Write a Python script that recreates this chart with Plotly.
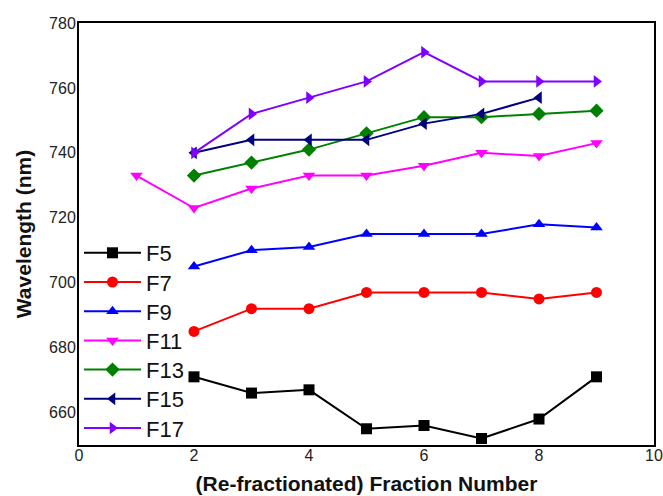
import plotly.graph_objects as go

x_2_9 = [2, 3, 4, 5, 6, 7, 8, 9]
x_1_9 = [1, 2, 3, 4, 5, 6, 7, 8, 9]
x_2_8 = [2, 3, 4, 5, 6, 7, 8]

f5 = [671, 666, 667, 655, 656, 652, 658, 671]
f7 = [685, 692, 692, 697, 697, 697, 695, 697]
f9 = [705, 710, 711, 715, 715, 715, 718, 717]
f11 = [733, 723, 729, 733, 733, 736, 740, 739, 743]
f13 = [733, 737, 741, 746, 751, 751, 752, 753]
f15 = [740, 744, 744, 744, 749, 752, 757]
f17 = [740, 752, 757, 762, 771, 762, 762, 762]

series = [
    ("F5", x_2_9, f5, "#000000", "square"),
    ("F7", x_2_9, f7, "#FF0000", "circle"),
    ("F9", x_2_9, f9, "#0000FF", "triangle-up"),
    ("F11", x_1_9, f11, "#FF00FF", "triangle-down"),
    ("F13", x_2_9, f13, "#008000", "diamond"),
    ("F15", x_2_8, f15, "#000080", "triangle-left"),
    ("F17", x_2_9, f17, "#8000FF", "triangle-right"),
]

W, H = 663, 496
ML, MR, MT, MB = 79, 9, 23, 51
plot_h = H - MT - MB

fig = go.Figure()
legend_layout = {}
for i, (name, xs, ys, color, sym) in enumerate(series):
    lname = "legend" if i == 0 else f"legend{i + 1}"
    fig.add_trace(go.Scatter(
        x=xs, y=ys, name=name, mode="lines+markers",
        line=dict(color=color, width=2),
        marker=dict(symbol=sym, size=11, color=color),
        legend=lname,
    ))
    center_px = 253 + 29.2 * i
    legend_layout[lname] = dict(
        x=0.0, y=(H - MB - center_px) / plot_h, xanchor="left", yanchor="middle",
        font=dict(size=22, color="#111"), bgcolor="rgba(0,0,0,0)",
        itemwidth=57,
    )

fig.update_layout(
    width=W, height=H,
    margin=dict(l=ML, r=MR, t=MT, b=MB),
    plot_bgcolor="white", paper_bgcolor="white",
    font=dict(family="Arial, Liberation Sans, sans-serif", color="#222"),
    showlegend=True,
    **legend_layout,
)
fig.update_xaxes(range=[0, 10], dtick=2, showgrid=False, zeroline=False,
                 showline=True, linecolor="black", linewidth=2, mirror=True,
                 ticks="", tickfont=dict(size=16), automargin=False,
                 ticklabelstandoff=-5,
                 title=dict(text="<b>(Re-fractionated) Fraction Number</b>",
                            font=dict(size=21, color="#111"), standoff=13))
fig.update_yaxes(range=[650, 780], tickvals=[660, 680, 700, 720, 740, 760, 780],
                 showgrid=False, zeroline=False, automargin=False,
                 showline=True, linecolor="black", linewidth=2, mirror=True,
                 ticks="", tickfont=dict(size=16), ticklabelstandoff=-2,
                 title=dict(text="<b>Wavelength (nm)</b>", font=dict(size=21, color="#111"),
                            standoff=12))

fig.write_html("out.html", config={"displayModeBar": False},
               post_script="document.body.style.margin='0';")
